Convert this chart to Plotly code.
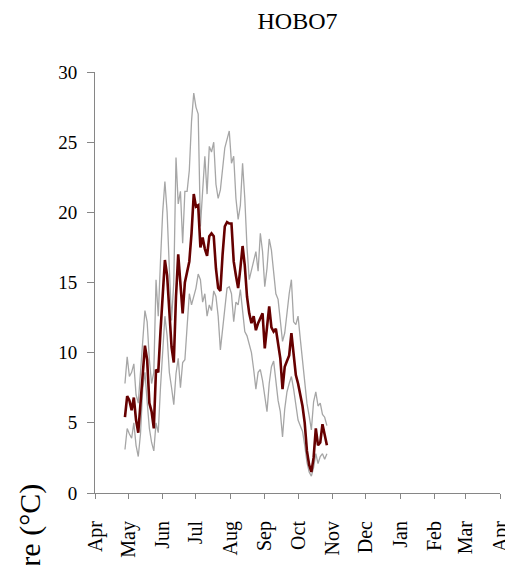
import pandas as pd
import plotly.graph_objects as go

# Dates: every 2 days from 28 Apr
start_date = "2005-04-28"
n_points = 92
dates = pd.date_range(start_date, periods=n_points, freq="2D")

t_max = [7.8, 9.7, 8.3, 8.6, 9.2, 7.0, 6.4, 8.6, 10.8, 13.0,
         12.2, 9.5, 7.8, 8.6, 15.2, 12.6, 16.5, 20.0, 22.2, 20.0,
         16.0, 12.3, 15.0, 23.9, 20.6, 21.5, 17.8, 21.5, 21.5, 23.0,
         26.5, 28.5, 27.5, 27.0, 19.0, 22.0, 24.0, 21.3, 24.7, 24.3,
         25.0, 22.0, 21.0, 21.6, 23.2, 24.6, 25.2, 25.8, 23.5, 24.0,
         21.0, 19.5, 20.5, 23.5, 21.0, 17.5, 15.2, 15.8, 16.4, 17.2,
         15.8, 18.5, 17.2, 14.7, 16.0, 18.1, 17.3, 15.5, 14.2, 13.8,
         12.0, 10.8, 11.4, 13.0, 14.2, 15.2, 12.2, 12.0, 12.6, 11.0,
         9.4, 7.6, 6.4, 5.5, 4.5, 6.5, 7.2, 6.2, 6.4, 5.6,
         5.4, 4.8]

t_mean = [5.4, 6.9, 6.6, 5.9, 6.8, 5.2, 4.3, 6.5, 8.0, 10.5,
          9.5, 6.4, 5.8, 4.6, 8.8, 8.6, 11.5, 14.5, 16.6, 15.5,
          12.5, 10.4, 9.3, 14.0, 17.0, 14.8, 12.8, 15.0, 15.8, 16.5,
          18.5, 21.3, 20.4, 20.5, 17.5, 18.2, 17.4, 16.9, 18.3, 18.5,
          18.3, 16.0, 14.6, 14.4, 17.0, 19.0, 19.3, 19.2, 19.2, 16.5,
          15.5, 14.6, 16.0, 17.6, 16.2, 14.0, 12.8, 12.1, 12.6, 11.6,
          12.1, 12.5, 12.8, 10.3, 11.8, 13.3, 11.8, 11.5, 11.7, 10.6,
          9.6, 7.4, 9.0, 9.4, 9.8, 11.4, 9.6, 8.4, 7.8, 7.0,
          6.2, 5.0, 3.0, 2.0, 1.5, 2.5, 4.6, 3.4, 3.6, 4.9,
          4.2, 3.4]

t_min = [3.1, 4.6, 4.2, 3.9, 5.0, 3.4, 2.6, 4.2, 7.4, 8.6,
         6.5, 4.6, 3.6, 3.0, 5.0, 4.3, 7.5, 10.5, 12.6, 11.2,
         8.6, 7.5, 6.3, 8.5, 9.6, 7.5, 9.3, 9.5, 12.0, 14.2,
         13.4, 14.0, 14.6, 15.6, 15.2, 13.6, 14.2, 12.6, 13.4, 13.0,
         14.4, 14.0, 12.6, 10.2, 11.8, 13.0, 14.6, 14.7, 14.2, 12.2,
         13.6, 13.4, 14.5, 13.0, 11.5, 11.2, 10.6, 10.0, 8.8, 7.4,
         8.6, 8.8, 8.0, 6.9, 5.8, 7.8, 9.0, 9.4, 7.8, 6.6,
         5.8, 4.0, 6.0, 7.2, 7.8, 8.3, 7.4, 6.4, 5.2, 4.8,
         4.4, 3.4, 2.2, 1.5, 1.2, 1.8, 2.8, 2.1, 2.6, 2.8,
         2.4, 2.8]

month_ticks = ["2005-04-01", "2005-05-01", "2005-06-01", "2005-07-01",
               "2005-08-01", "2005-09-01", "2005-10-01", "2005-11-01",
               "2005-12-01", "2006-01-01", "2006-02-01", "2006-03-01",
               "2006-04-01"]
month_labels = ["Apr", "May", "Jun", "Jul", "Aug", "Sep", "Oct", "Nov",
                "Dec", "Jan", "Feb", "Mar", "Apr"]

FONT = "Liberation Serif"
GRAY = "#a6a6a6"
RED = "#660000"
AXIS = "#868686"

# page body adds an 8px offset, so the figure is sized to the remaining area
W, H = 505, 557

fig = go.Figure()
fig.add_trace(go.Scatter(x=dates, y=t_max, mode="lines",
                         line=dict(color=GRAY, width=1.3), name="Max"))
fig.add_trace(go.Scatter(x=dates, y=t_min, mode="lines",
                         line=dict(color=GRAY, width=1.3), name="Min"))
fig.add_trace(go.Scatter(x=dates, y=t_mean, mode="lines",
                         line=dict(color=RED, width=2.6), name="Mean"))

fig.update_layout(
    width=W, height=H,
    margin=dict(l=87, r=13, t=64, b=72, autoexpand=False),
    paper_bgcolor="white", plot_bgcolor="white",
    showlegend=False,
    font=dict(family=FONT, size=19, color="black"),
    title=dict(text="HOBO7", x=289.5 / W, xanchor="center",
               y=1 - 13 / H, yanchor="middle", yref="container",
               font=dict(family=FONT, size=24, color="black")),
    xaxis=dict(range=[month_ticks[0], month_ticks[-1]],
               tickmode="array", tickvals=month_ticks, ticktext=month_labels,
               tickangle=-90, ticks="outside", ticklen=5, tickcolor=AXIS,
               showline=True, linecolor=AXIS, linewidth=1,
               showgrid=False, zeroline=False, automargin=False,
               ticklabelstandoff=14,
               tickfont=dict(family=FONT, size=20, color="black")),
    yaxis=dict(range=[0, 30], tickvals=[0, 5, 10, 15, 20, 25, 30],
               ticks="outside", ticklen=7, tickcolor=AXIS,
               showline=True, linecolor=AXIS, linewidth=1,
               showgrid=False, zeroline=False, automargin=False,
               ticklabelstandoff=6,
               tickfont=dict(family=FONT, size=19, color="black")),
)

fig.add_annotation(text="Temperature (°C)", textangle=-90,
                   xref="paper", yref="paper",
                   x=(21 - 87) / 405, y=(485 - 474) / 421,
                   xanchor="center", yanchor="top", showarrow=False,
                   font=dict(family=FONT, size=30, color="black"))

fig.write_html("out.html")
